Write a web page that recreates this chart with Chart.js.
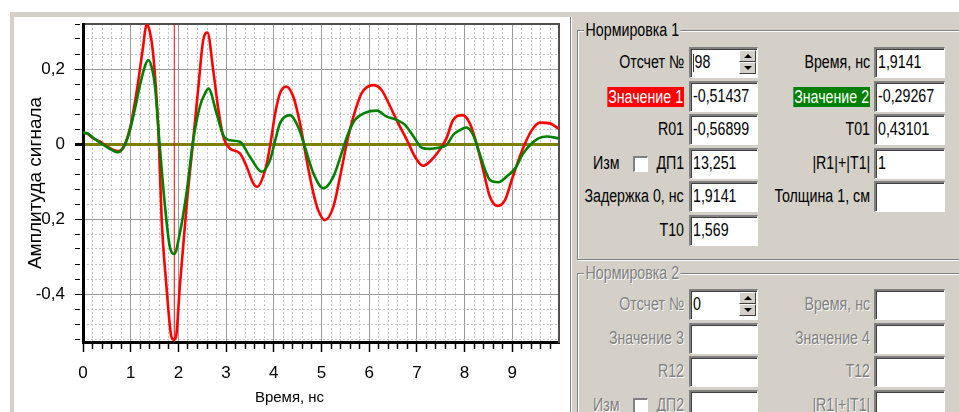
<!DOCTYPE html>
<html>
<head>
<meta charset="utf-8">
<script src="https://cdn.jsdelivr.net/npm/chart.js@4.4.1/dist/chart.umd.min.js"></script>
<style>
html, body { margin: 0; padding: 0; background: #fff; }
body { width: 959px; height: 412px; position: relative; overflow: hidden; font-family: 'Liberation Sans', Arial, sans-serif; }
#topbar { position: absolute; left: 10px; top: 12px; width: 949px; height: 5px; background: #d4d0c8; }
#leftbar { position: absolute; left: 10px; top: 12px; width: 4px; height: 400px; background: #d4d0c8; }
#plotBox { position: absolute; left: 14px; top: 17px; width: 551px; height: 395px; }
#panel { position: absolute; left: 570px; top: 17px; width: 389px; height: 395px; background: #d4d0c8;
  box-shadow: inset 1px 0 0 #808080, inset 2px 0 0 #fff; }
.grp { position: absolute; border: 1px solid #808080; box-shadow: inset 1px 1px 0 #fff, 1px 1px 0 #fff; }
.txt { position: absolute; white-space: nowrap; font-size: 18px; color: #000; transform: scaleX(0.79); }
.off { color: #808080; text-shadow: 1px 1px 0 #fff; }
.box { position: absolute; height: 31px; box-sizing: border-box; background: #fff;
  border-top: 2px solid #808080; border-left: 2px solid #808080; border-bottom: 1px solid #fff; border-right: 1px solid #fff;
  box-shadow: inset 1px 1px 0 #404040; }
.chk { position: absolute; width: 15px; height: 16px; box-sizing: border-box; background: #fff;
  border-top: 2px solid #808080; border-left: 2px solid #808080; border-bottom: 1px solid #fff; border-right: 1px solid #fff; }
.spin { position: absolute; right: 1px; width: 17px; height: 12px; background: #d4d0c8; box-sizing: border-box;
  border-top: 1px solid #fff; border-left: 1px solid #fff; border-bottom: 1px solid #404040; border-right: 1px solid #404040; }
.tri { position: absolute; left: 4px; width: 0; height: 0; border-left: 4px solid transparent; border-right: 4px solid transparent; }
</style>
</head>
<body>
<div id="topbar"></div>
<div id="leftbar"></div>
<div id="plotBox"><canvas id="chart" width="551" height="395"></canvas></div>
<div id="panel"></div>
<script>
// time axis, ns
const X_MIN = 0;
const X_MAX = 9.98;
// amplitude axis
const Y_MIN = -0.528;
const Y_MAX = 0.32;

// signal 1 (red)
const timeRed = [0, 0.1, 0.2, 0.36, 0.55, 0.74, 0.88, 1.0, 1.06, 1.15, 1.25, 1.335, 1.4, 1.47, 1.58,
  1.65, 1.75, 1.84, 1.89, 1.95, 2.03, 2.17, 2.31, 2.42, 2.52, 2.61, 2.73, 2.84, 2.94, 3.08,
  3.29, 3.43, 3.57, 3.65, 3.82, 3.92, 4.03, 4.13, 4.26, 4.41, 4.55, 4.69, 4.83, 4.93, 5.07,
  5.25, 5.39, 5.53, 5.67, 5.84, 6.09, 6.26, 6.44, 6.61, 6.79, 6.96, 7.13, 7.34, 7.48, 7.62,
  7.76, 7.96, 8.11, 8.25, 8.39, 8.53, 8.69, 8.85, 8.99, 9.13, 9.27, 9.41, 9.58, 9.79, 9.98];
const red = [0.030, 0.027, 0.016, 0.006, -0.010, -0.019, 0.000, 0.050, 0.090, 0.160, 0.250, 0.318, 0.300, 0.242, 0.037,
  -0.203, -0.380, -0.505, -0.522, -0.514, -0.380, -0.167, 0.010, 0.153, 0.277, 0.297, 0.197, 0.090, 0.020, -0.012,
  -0.025, -0.060, -0.105, -0.114, -0.069, -0.007, 0.082, 0.135, 0.153, 0.126, 0.055, -0.043, -0.131, -0.176, -0.203,
  -0.167, -0.087, 0.002, 0.073, 0.135, 0.157, 0.144, 0.100, 0.055, 0.011, -0.034, -0.058, -0.038, -0.015, 0.015,
  0.064, 0.077, 0.055, 0.002, -0.069, -0.140, -0.165, -0.149, -0.096, -0.043, 0.002, 0.037, 0.057, 0.055, 0.040];

// signal 2 (green)
const timeGreen = [0, 0.1, 0.2, 0.4, 0.55, 0.74, 0.88, 1.0, 1.1, 1.2, 1.3, 1.37, 1.45, 1.51, 1.61,
  1.72, 1.82, 1.915, 2.03, 2.17, 2.31, 2.45, 2.56, 2.63, 2.8, 2.94, 3.08, 3.29, 3.5, 3.75,
  3.92, 4.03, 4.13, 4.34, 4.51, 4.65, 4.83, 5.04, 5.25, 5.42, 5.56, 5.7, 5.91, 6.16, 6.37,
  6.58, 6.75, 6.93, 7.1, 7.27, 7.45, 7.62, 7.76, 7.9, 8.04, 8.18, 8.29, 8.43, 8.53, 8.71,
  8.88, 9.06, 9.23, 9.41, 9.55, 9.72, 9.98];
const green = [0.030, 0.028, 0.018, 0.000, -0.012, -0.022, -0.002, 0.045, 0.100, 0.160, 0.208, 0.224, 0.200, 0.153, -0.007,
  -0.167, -0.274, -0.293, -0.238, -0.131, 0.010, 0.100, 0.135, 0.148, 0.082, 0.024, 0.010, 0.006, -0.034, -0.074,
  -0.043, 0.010, 0.055, 0.077, 0.046, -0.007, -0.078, -0.118, -0.087, -0.025, 0.028, 0.064, 0.083, 0.089, 0.073,
  0.064, 0.051, 0.020, -0.010, -0.013, -0.010, -0.003, 0.024, 0.037, 0.044, 0.024, -0.016, -0.069, -0.096, -0.102,
  -0.087, -0.065, -0.025, 0.002, 0.015, 0.020, 0.015];

// cursor position (sample 98)
const cursorTime = 1.9141;

const isMult = (v, s) => Math.abs(v / s - Math.round(v / s)) < 1e-6;
const toPts = (ts, vs) => ts.map((t, i) => ({x: t, y: vs[i]}));
const fmtY = v => (Math.abs(v) < 1e-9 ? '0' : v.toFixed(1).replace('.', ','));

Chart.defaults.font.family = "'Liberation Sans', Arial, sans-serif";

new Chart(document.getElementById('chart'), {
  type: 'line',
  data: {
    datasets: [
      {label: 'Значение 2', data: toPts(timeGreen, green), borderColor: '#008000', borderWidth: 2.6,
        pointRadius: 0, cubicInterpolationMode: 'monotone', order: 1},
      {label: 'Значение 1', data: toPts(timeRed, red), borderColor: '#ff0000', borderWidth: 2.6,
        pointRadius: 0, cubicInterpolationMode: 'monotone', order: 2},
      {label: 'Время', data: [{x: cursorTime, y: Y_MIN}, {x: cursorTime, y: Y_MAX}], borderColor: '#ff0000',
        borderWidth: 1, pointRadius: 0, order: 3}
    ]
  },
  options: {
    responsive: false,
    animation: false,
    events: [],
    layout: {padding: {left: 6, top: 7, right: 6, bottom: 0}},
    plugins: {
      legend: {display: false},
      tooltip: {enabled: false},
      title: {display: true, position: 'bottom', text: 'Время, нс', color: '#000',
        font: {size: 15, weight: 'normal'}, padding: {top: 0, bottom: 5}}
    },
    scales: {
      x: {
        type: 'linear', min: X_MIN, max: X_MAX, position: 'bottom',
        afterFit: s => { s.height = 47; s.paddingLeft = 0; s.paddingRight = 0; },
        ticks: {stepSize: 0.2, autoSkip: false, maxRotation: 0, includeBounds: false, color: '#000',
          font: {size: 17}, padding: 11, callback: v => (isMult(v, 1) ? String(Math.round(v)) : '')},
        grid: {color: c => (isMult(c.tick.value, 1) ? '#9a9a9a' : 'transparent'), lineWidth: 1,
          tickLength: 10, tickColor: '#000', tickWidth: 1.5,
          tickBorderDash: c => (isMult(c.tick.value, 1) ? [] : [5, 40])},
        border: {color: '#000', width: 3}
      },
      xMinor: {
        type: 'linear', min: X_MIN, max: X_MAX, position: 'bottom',
        ticks: {display: false, stepSize: 0.2, includeBounds: false},
        grid: {drawTicks: false, color: c => (isMult(c.tick.value, 1) ? 'transparent' : '#c4c4c4')},
        border: {display: false, dash: [2, 2]}
      },
      xTop: {
        type: 'linear', min: X_MIN, max: X_MAX, position: 'top',
        ticks: {display: false}, grid: {display: false, drawTicks: false},
        border: {display: true, color: '#505050', width: 2}
      },
      y: {
        type: 'linear', min: Y_MIN, max: Y_MAX, position: 'left',
        afterFit: s => { s.width = 63; s.paddingTop = 0; s.paddingBottom = 0; },
        ticks: {stepSize: 0.04, autoSkip: false, includeBounds: false, color: '#000', font: {size: 17},
          padding: 10, callback: v => (isMult(v, 0.2) ? fmtY(v) : '')},
        grid: {
          color: c => (Math.abs(c.tick.value) < 1e-9 ? '#808000' : isMult(c.tick.value, 0.2) ? '#9a9a9a' : 'transparent'),
          lineWidth: c => (Math.abs(c.tick.value) < 1e-9 ? 3 : 1),
          tickLength: 8, tickColor: '#000',
          tickBorderDash: c => (isMult(c.tick.value, 0.2) ? [] : [5, 40])
        },
        border: {color: '#000', width: 3},
        title: {display: true, text: 'Амплитуда сигнала', color: '#000', font: {size: 19}, padding: {top: 4, bottom: 0}}
      },
      yMinor: {
        type: 'linear', min: Y_MIN, max: Y_MAX, position: 'left',
        ticks: {display: false, stepSize: 0.04, includeBounds: false},
        grid: {drawTicks: false, color: c => (isMult(c.tick.value, 0.2) ? 'transparent' : '#c4c4c4')},
        border: {display: false, dash: [2, 2]}
      },
      yRight: {
        type: 'linear', min: Y_MIN, max: Y_MAX, position: 'right',
        ticks: {display: false}, grid: {display: false, drawTicks: false},
        border: {display: true, color: '#505050', width: 2}
      }
    }
  }
});

// ---- side panel (Нормировка 1 / Нормировка 2) ----
const ROW_H = 31;
const ROW_STEP = 33.5;

function el(cls, css, text) {
  const d = document.createElement('div');
  d.className = cls;
  Object.assign(d.style, css);
  if (text !== undefined) d.textContent = text;
  document.body.appendChild(d);
  return d;
}

function label(txt, xEnd, top, bg, off) {
  const d = el('txt' + (off ? ' off' : ''), {right: (959 - xEnd) + 'px', top: top + 'px',
    lineHeight: ROW_H + 'px', transformOrigin: 'right center'});
  const s = document.createElement('span');
  s.textContent = txt;
  if (bg) Object.assign(s.style, {background: bg, color: '#fff', display: 'inline-block', lineHeight: '20px',
    padding: '0 1px', verticalAlign: 'middle'});
  d.appendChild(s);
}

function box(left, top, width, val, spin, caret) {
  const b = el('box', {left: left + 'px', top: top + 'px', width: width + 'px'});
  const t = document.createElement('div');
  t.className = 'txt';
  Object.assign(t.style, {left: '2px', top: '0', lineHeight: '27px', transformOrigin: 'left center'});
  if (caret) {
    const c = document.createElement('span');
    Object.assign(c.style, {display: 'inline-block', width: '0', height: '18px', borderLeft: '1px solid #000',
      verticalAlign: 'middle', marginRight: '1px'});
    t.appendChild(c);
  }
  t.appendChild(document.createTextNode(val));
  b.appendChild(t);
  if (spin) {
    const up = document.createElement('div');
    up.className = 'spin';
    up.style.top = '1px';
    const tu = document.createElement('div');
    tu.className = 'tri';
    Object.assign(tu.style, {top: '3px', borderBottom: '4px solid #000'});
    up.appendChild(tu);
    const dn = document.createElement('div');
    dn.className = 'spin';
    dn.style.top = '13px';
    const td = document.createElement('div');
    td.className = 'tri';
    Object.assign(td.style, {top: '3px', borderTop: '4px solid #000'});
    dn.appendChild(td);
    b.appendChild(up);
    b.appendChild(dn);
  }
}

function group(title, frameTop, frameH, rowTop, leftRows, rightRows, off) {
  el('grp', {left: '577px', top: frameTop + 'px', width: '400px', height: frameH + 'px'});
  el('txt' + (off ? ' off' : ''), {left: '584px', top: (frameTop - 10) + 'px', lineHeight: '20px',
    background: '#d4d0c8', padding: '0 2px', transformOrigin: 'left center'}, title);
  leftRows.forEach((r, i) => {
    const top = Math.round(rowTop + i * ROW_STEP);
    label(r.lbl, 684, top, r.bg, off);
    box(689, top, 69, r.val, r.spin, r.caret);
    if (r.check) {
      el('txt' + (off ? ' off' : ''), {left: '593px', top: top + 'px', lineHeight: ROW_H + 'px',
        transformOrigin: 'left center'}, 'Изм');
      el('chk', {left: '633px', top: (top + 8) + 'px'});
    }
  });
  rightRows.forEach((r, i) => {
    const top = Math.round(rowTop + i * ROW_STEP);
    label(r.lbl, 870, top, r.bg, off);
    box(874, top, 71, r.val, false, false);
  });
}

group('Нормировка 1', 30, 228, 47, [
  {lbl: 'Отсчет №', val: '98', spin: true, caret: true},
  {lbl: 'Значение 1', val: '-0,51437', bg: '#ff0000'},
  {lbl: 'R01', val: '-0,56899'},
  {lbl: 'ДП1', val: '13,251', check: true},
  {lbl: 'Задержка 0, нс', val: '1,9141'},
  {lbl: 'T10', val: '1,569'}
], [
  {lbl: 'Время, нс', val: '1,9141'},
  {lbl: 'Значение 2', val: '-0,29267', bg: '#008000'},
  {lbl: 'T01', val: '0,43101'},
  {lbl: '|R1|+|T1|', val: '1'},
  {lbl: 'Толщина 1, см', val: ''}
], false);

group('Нормировка 2', 273, 200, 289, [
  {lbl: 'Отсчет №', val: '0', spin: true},
  {lbl: 'Значение 3', val: ''},
  {lbl: 'R12', val: ''},
  {lbl: 'ДП2', val: '', check: true}
], [
  {lbl: 'Время, нс', val: ''},
  {lbl: 'Значение 4', val: ''},
  {lbl: 'T12', val: ''},
  {lbl: '|R1|+|T1|', val: ''}
], true);
</script>
</body>
</html>
